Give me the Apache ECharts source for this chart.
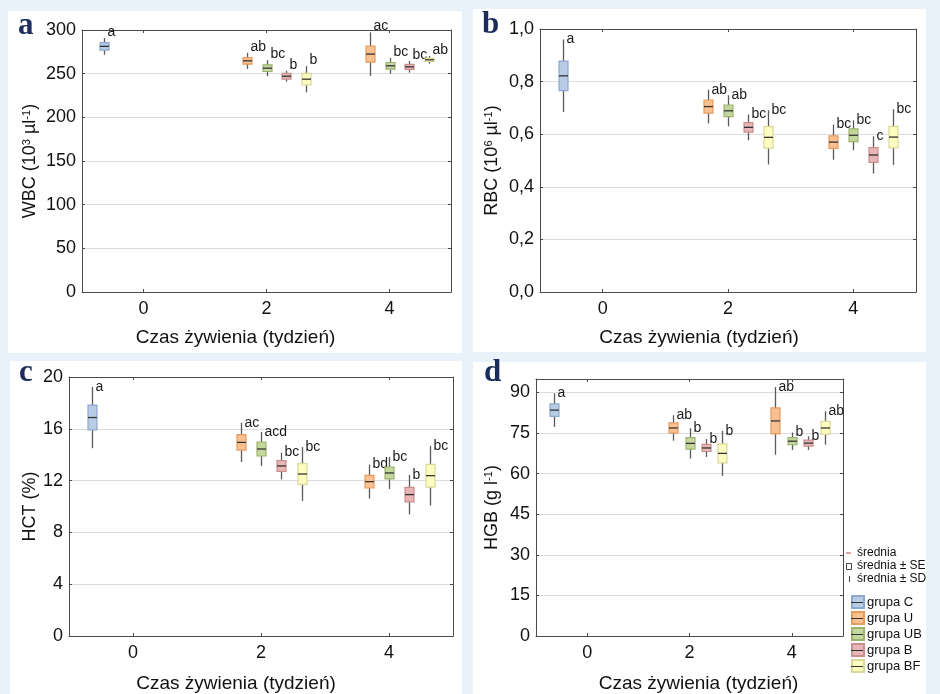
<!DOCTYPE html>
<html>
<head>
<meta charset="utf-8">
<script src="https://cdn.jsdelivr.net/npm/echarts@6/dist/echarts.min.js"></script>
<style>
html,body{margin:0;padding:0;background:#e9f1fa;}
#c{width:940px;height:694px;}
</style>
</head>
<body>
<div id="c"></div>
<script>
// ---- data ----
const groupNames = ['grupa C', 'grupa U', 'grupa UB', 'grupa B', 'grupa BF'];
const xTicks = [0, 2, 4];
// box order: C@0, U@2, UB@2, B@2, BF@2, U@4, UB@4, B@4, BF@4
const boxGroup = [0, 1, 2, 3, 4, 1, 2, 3, 4];
const boxTime = [0, 2, 2, 2, 2, 4, 4, 4, 4];

const wbcMean = [281.3, 264.7, 256.3, 247.1, 243.7, 272.4, 259.0, 257.8, 265.9];
const wbcSE   = [4.3, 3.7, 3.8, 3.3, 6.7, 9.2, 3.8, 2.9, 1.9];
const wbcSD   = [9.6, 9.2, 9.2, 6.3, 15.0, 24.9, 9.0, 6.6, 4.4];
const wbcLetters = ['a', 'ab', 'bc', 'b', 'b', 'ac', 'bc', 'bc', 'ab'];
const wbcTicks = [0, 50, 100, 150, 200, 250, 300];

const rbcMean = [0.822, 0.705, 0.689, 0.626, 0.588, 0.570, 0.596, 0.521, 0.589];
const rbcSE   = [0.056, 0.025, 0.022, 0.018, 0.041, 0.024, 0.024, 0.028, 0.041];
const rbcSD   = [0.138, 0.064, 0.059, 0.049, 0.103, 0.067, 0.057, 0.071, 0.106];
const rbcLetters = ['a', 'ab', 'ab', 'bc', 'bc', 'bc', 'bc', 'c', 'bc'];
const rbcTicks = [0, 0.2, 0.4, 0.6, 0.8, 1.0];

const hctMean = [16.87, 14.95, 14.44, 13.13, 12.51, 11.92, 12.59, 10.92, 12.38];
const hctSE   = [0.96, 0.60, 0.54, 0.42, 0.80, 0.49, 0.46, 0.56, 0.88];
const hctSD   = [2.37, 1.52, 1.31, 1.03, 2.08, 1.32, 1.24, 1.53, 2.31];
const hctLetters = ['a', 'ac', 'acd', 'bc', 'bc', 'bd', 'bc', 'b', 'bc'];
const hctTicks = [0, 4, 8, 12, 16, 20];

const hgbMean = [83.5, 76.9, 71.2, 69.5, 67.5, 79.5, 72.0, 71.3, 76.9];
const hgbSE   = [2.3, 1.9, 2.1, 1.3, 3.5, 4.8, 1.3, 1.1, 2.4];
const hgbSD   = [6.2, 4.7, 5.6, 3.3, 8.3, 12.5, 3.2, 2.5, 6.2];
const hgbLetters = ['a', 'ab', 'b', 'b', 'b', 'ab', 'b', 'b', 'ab'];
const hgbTicks = [0, 15, 30, 45, 60, 75, 90];

// ---- styling ----
const groupOffset = [-0.64, -0.32, 0, 0.32, 0.64];
const fills   = ['#b9cce6', '#f9c090', '#c5d7a0', '#e8b6b6', '#fefdc0'];
const borders = ['#8ea9cf', '#e59c62', '#9bb36c', '#c98e8e', '#d9d79a'];
const FONT = 'Liberation Sans, Arial, sans-serif';

const panels = [
  {mean: wbcMean, se: wbcSE, sd: wbcSD, letters: wbcLetters, ticks: wbcTicks, ymax: 300,
   name: 'WBC (10{sup|3} µl{sup|-1})', grid: {left: 82, top: 30, width: 369, height: 262},
   nameGap: 42, xGap: 36, xShift: 31, labelDy: -6, fmt: v => String(v)},
  {mean: rbcMean, se: rbcSE, sd: rbcSD, letters: rbcLetters, ticks: rbcTicks, ymax: 1.0,
   name: 'RBC (10{sup|6} µl{sup|-1})', grid: {left: 540, top: 29, width: 376, height: 263},
   nameGap: 38, xGap: 36, xShift: 29, labelDy: 0, fmt: v => v.toFixed(1).replace('.', ',')},
  {mean: hctMean, se: hctSE, sd: hctSD, letters: hctLetters, ticks: hctTicks, ymax: 20,
   name: 'HCT (%)', grid: {left: 69, top: 377, width: 384, height: 259},
   nameGap: 30, xGap: 38, xShift: 25, labelDy: 0, fmt: v => String(v)},
  {mean: hgbMean, se: hgbSE, sd: hgbSD, letters: hgbLetters, ticks: hgbTicks, ymax: 95,
   name: 'HGB (g l{sup|-1})', grid: {left: 536, top: 379, width: 307, height: 262},
   nameGap: 34, xGap: 38, xShift: -9, labelDy: 0, fmt: v => String(v)}
];

const grids = [], xAxes = [], yAxes = [], series = [];
const axisCol = '#4a4a4a';

panels.forEach((p, pi) => {
  grids.push(Object.assign({containLabel: false}, p.grid));
  const pad = p.xShift > 0 ? [0, 2 * p.xShift, 0, 0] : [0, 0, 0, -2 * p.xShift];
  // bottom x
  xAxes.push({
    gridIndex: pi, type: 'value', min: -1, max: 5, position: 'bottom',
    axisLine: {show: true, onZero: false, lineStyle: {color: axisCol, width: 1}},
    axisTick: {show: true, inside: true, length: 3, customValues: xTicks, lineStyle: {color: axisCol}},
    axisLabel: {customValues: xTicks, margin: 8, fontSize: 18, color: '#111', fontFamily: FONT},
    splitLine: {show: false},
    name: 'Czas żywienia (tydzień)', nameLocation: 'middle', nameGap: p.xGap,
    nameTextStyle: {fontSize: 19, color: '#111', fontFamily: FONT, padding: pad}
  });
  // top x (frame)
  xAxes.push({
    gridIndex: pi, type: 'value', min: -1, max: 5, position: 'top',
    axisLine: {show: true, onZero: false, lineStyle: {color: axisCol, width: 1}},
    axisTick: {show: true, inside: true, length: 3, customValues: xTicks, lineStyle: {color: axisCol}},
    axisLabel: {show: false}, splitLine: {show: false}
  });
  yAxes.push({
    gridIndex: pi, type: 'value', min: 0, max: p.ymax, position: 'left',
    axisLine: {show: true, onZero: false, lineStyle: {color: axisCol, width: 1}},
    axisTick: {show: true, inside: true, length: 3, customValues: p.ticks, lineStyle: {color: axisCol}},
    axisLabel: {customValues: p.ticks, margin: 6, fontSize: 18, color: '#111', fontFamily: FONT, formatter: p.fmt},
    splitLine: {show: true, lineStyle: {color: '#dcdcdc', width: 1.2}},
    name: p.name, nameLocation: 'middle', nameGap: p.nameGap, nameRotate: 90,
    nameTextStyle: {fontSize: 18, color: '#111', fontFamily: FONT,
      rich: {sup: {fontSize: 11, verticalAlign: 'top', color: '#111', fontFamily: FONT, padding: [0, 0, 8, 0]}}}
  });
  yAxes.push({
    gridIndex: pi, type: 'value', min: 0, max: p.ymax, position: 'right',
    axisLine: {show: true, onZero: false, lineStyle: {color: axisCol, width: 1}},
    axisTick: {show: true, inside: true, length: 3, customValues: p.ticks, lineStyle: {color: axisCol}},
    axisLabel: {show: false}, splitLine: {show: false}
  });

  groupNames.forEach((gName, g) => {
    const data = [];
    boxGroup.forEach((bg, i) => {
      if (bg === g) data.push([boxTime[i] + groupOffset[g], p.mean[i], p.se[i], p.sd[i], i]);
    });
    series.push({
      type: 'custom', name: gName, xAxisIndex: pi * 2, yAxisIndex: pi * 2,
      itemStyle: {color: fills[g], borderColor: borders[g], borderWidth: 1},
      encode: {x: 0, y: 1},
      data: data,
      renderItem: (params, api) => {
        const x = api.value(0), m = api.value(1), se = api.value(2), sd = api.value(3);
        const idx = api.value(4);
        const pm = api.coord([x, m]);
        const seT = api.coord([x, m + se])[1], seB = api.coord([x, m - se])[1];
        const sdT = api.coord([x, m + sd])[1], sdB = api.coord([x, m - sd])[1];
        const w = 9, cx = Math.round(pm[0]) + 0.5;
        return {type: 'group', children: [
          {type: 'line', shape: {x1: cx, y1: sdT, x2: cx, y2: sdB}, style: {stroke: '#5a5a5a', lineWidth: 1.3}},
          {type: 'rect', shape: {x: cx - w / 2, y: seT, width: w, height: seB - seT},
           style: {fill: fills[g], stroke: borders[g], lineWidth: 1.2}},
          {type: 'line', shape: {x1: cx - w / 2, y1: pm[1], x2: cx + w / 2, y2: pm[1]},
           style: {stroke: '#333', lineWidth: 1.3}},
          {type: 'text', x: cx + 3, y: sdT + p.labelDy,
           style: {text: p.letters[idx], fill: '#1a1a1a', font: '14px ' + FONT, verticalAlign: 'middle', align: 'left'}}
        ]};
      }
    });
  });
});

const panelLetter = (t, x, y) => ({type: 'text', left: x, top: y,
  style: {text: t, fill: '#1b2d5c', font: 'bold 31px "Liberation Serif", "DejaVu Serif", serif'}});

const graphic = [
  {type: 'rect', shape: {x: 8, y: 11, width: 454, height: 342}, style: {fill: '#fff'}, z: -10},
  {type: 'rect', shape: {x: 473, y: 9, width: 453, height: 343}, style: {fill: '#fff'}, z: -10},
  {type: 'rect', shape: {x: 10, y: 361, width: 452, height: 340}, style: {fill: '#fff'}, z: -10},
  {type: 'rect', shape: {x: 473, y: 362, width: 453, height: 340}, style: {fill: '#fff'}, z: -10},
  panelLetter('a', 18, 10),
  panelLetter('b', 482, 9),
  panelLetter('c', 19, 357),
  panelLetter('d', 484, 357),
  // key for mean / SE / SD
  {type: 'line', shape: {x1: 846, y1: 553, x2: 851, y2: 553}, style: {stroke: '#c0504d', lineWidth: 1}},
  {type: 'text', x: 857, y: 553, style: {text: 'średnia', fill: '#111', font: '12px ' + FONT, verticalAlign: 'middle'}},
  {type: 'rect', shape: {x: 846.5, y: 563.5, width: 5, height: 6}, style: {fill: '#fff', stroke: '#444', lineWidth: 1}},
  {type: 'text', x: 857, y: 566, style: {text: 'średnia ± SE', fill: '#111', font: '12px ' + FONT, verticalAlign: 'middle'}},
  {type: 'line', shape: {x1: 849.5, y1: 576, x2: 849.5, y2: 582}, style: {stroke: '#444', lineWidth: 1}},
  {type: 'text', x: 857, y: 579, style: {text: 'średnia ± SD', fill: '#111', font: '12px ' + FONT, verticalAlign: 'middle'}}
];
// middle lines on legend icons
groupNames.forEach((n, g) => {
  const y = 602 + g * 16;
  graphic.push({type: 'line', shape: {x1: 851, y1: y + 0.5, x2: 863, y2: y + 0.5}, style: {stroke: '#333', lineWidth: 1}, z: 100});
});

const chart = echarts.init(document.getElementById('c'), null, {renderer: 'canvas'});
chart.setOption({
  backgroundColor: '#e9f1fa',
  animation: false,
  grid: grids, xAxis: xAxes, yAxis: yAxes, series: series,
  legend: {
    data: groupNames, orient: 'vertical', left: 851, top: 595, padding: 0,
    icon: 'rect', itemWidth: 12, itemHeight: 12, itemGap: 2,
    textStyle: {fontSize: 13, color: '#111', fontFamily: FONT, padding: [0, 0, 0, -2]},
    selectedMode: false
  },
  graphic: graphic
});
</script>
</body>
</html>
